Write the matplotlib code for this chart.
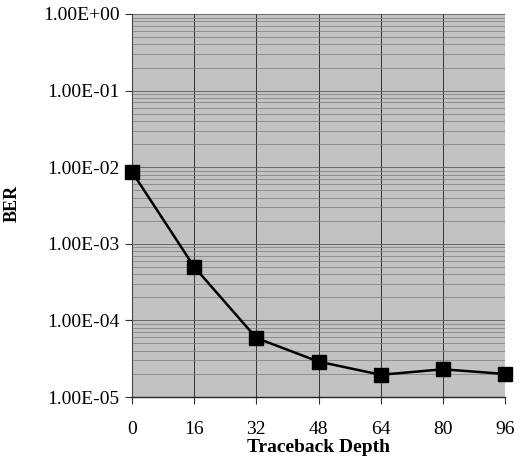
import matplotlib
matplotlib.use("Agg")
import matplotlib.pyplot as plt
from matplotlib.ticker import LogLocator, NullFormatter

depth = [0, 16, 32, 48, 64, 80, 96]
ber = [8.7e-3, 5.0e-4, 5.9e-5, 2.9e-5, 1.95e-5, 2.3e-5, 2.0e-5]
ytick_vals = [1e0, 1e-1, 1e-2, 1e-3, 1e-4, 1e-5]
ytick_labels = ["1.00E+00", "1.00E-01", "1.00E-02", "1.00E-03", "1.00E-04", "1.00E-05"]

plt.rcParams['font.family'] = ['Liberation Serif', 'DejaVu Serif']

fig = plt.figure(figsize=(5.21, 4.65), dpi=100)
ax = fig.add_axes([132 / 521, 68 / 465, 373 / 521, 383 / 465])
ax.set_facecolor('#c2c2c2')
ax.set_yscale('log')
ax.set_ylim(1e-5, 1e0)
ax.set_xlim(0, 96)

ax.yaxis.set_minor_locator(LogLocator(base=10, subs=range(2, 10)))
ax.yaxis.set_minor_formatter(NullFormatter())
ax.grid(True, which='minor', axis='y', color='#7a7a7a', linewidth=0.5)
ax.grid(True, which='major', axis='y', color='#5a5a5a', linewidth=0.6)
ax.grid(True, which='major', axis='x', color='#333333', linewidth=0.7)
ax.tick_params(axis='y', which='minor', length=0)

ax.plot(depth, ber, color='black', linewidth=1.8, marker='s', markersize=10,
        markerfacecolor='black', markeredgecolor='black', clip_on=False, zorder=5)

ax.set_xticks(depth)
ax.set_xticklabels([str(d) for d in depth])
ax.set_yticks(ytick_vals)
ax.set_yticklabels(ytick_labels)
ax.tick_params(axis='both', which='major', labelsize=14, length=5, width=0.8,
               direction='out', color='#333333')
ax.tick_params(axis='x', pad=12)
ax.tick_params(axis='y', pad=4)

for s in ['top', 'right']:
    ax.spines[s].set_visible(False)
ax.spines['left'].set_color('#444444')
ax.spines['left'].set_linewidth(0.8)
ax.spines['bottom'].set_color('#222222')
ax.spines['bottom'].set_linewidth(1.0)

ax.set_xlabel('Traceback Depth', fontsize=14, fontweight='bold', labelpad=1)
ax.set_ylabel('BER', fontsize=13, fontweight='bold')
ax.yaxis.set_label_coords(-0.298, 0.505)

fig.savefig('out.png', dpi=100)
